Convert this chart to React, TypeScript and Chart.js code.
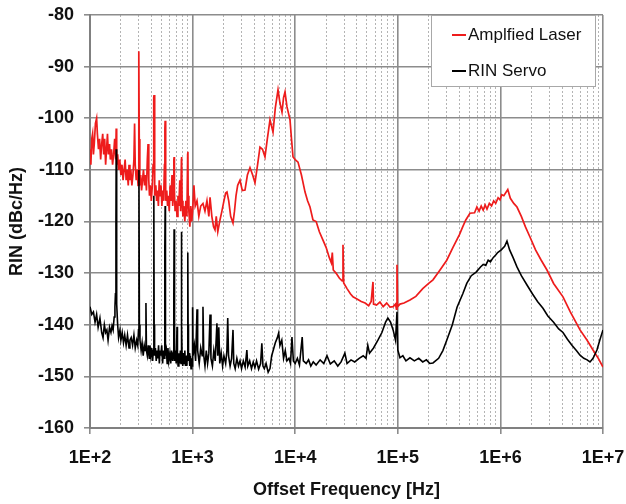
import React, { useEffect, useRef } from "react";
import { Chart, registerables } from "chart.js";

Chart.register(...registerables);

const seriesNames = ["Amplfied Laser", "RIN Servo"];
const seriesColors = ["#ee1c1c", "#000000"];

const decadeTicks = [100, 1000, 10000, 100000, 1000000, 10000000];
const decadeLabels = ["1E+2", "1E+3", "1E+4", "1E+5", "1E+6", "1E+7"];
const yMin = -160;
const yMax = -80;
const yStep = 10;

const laserFreq = [
  100, 102, 104, 106, 108, 110, 113, 116, 118, 121,
  124, 127, 130, 133, 136, 139, 142, 145, 148, 151,
  155, 158, 162, 166, 170, 174, 178, 180, 182, 186,
  190, 195, 200, 205, 210, 215, 220, 225, 230, 236,
  240, 245, 250, 256, 262, 268, 272, 276, 282, 288,
  294, 298, 300, 302, 306, 312, 318, 325, 332, 340,
  348, 355, 362, 368, 374, 380, 388, 396, 405, 412,
  418, 421, 424, 430, 438, 446, 455, 464, 473, 482,
  492, 502, 512, 522, 532, 537, 540, 543, 550, 560,
  570, 580, 592, 604, 616, 630, 640, 650, 657, 661,
  665, 675, 690, 705, 720, 735, 750, 765, 778, 782,
  790, 805, 820, 840, 860, 880, 895, 900, 905, 920,
  940, 960, 980,
  1000, 1030, 1060, 1104, 1150, 1200, 1262, 1320, 1380, 1440,
  1479, 1540, 1600, 1653, 1700, 1760, 1849, 1930, 2020, 2100,
  2163, 2250, 2350, 2476, 2560, 2650, 2750, 2898, 3050, 3242,
  3420, 3626, 3850, 4056, 4300, 4537, 4800, 5077, 5350, 5680,
  6079, 6400, 6800, 7100, 7436, 7700, 7955, 8318, 8898, 9200,
  9524,
  10000, 10650, 11500, 12470, 13200, 13940, 14900, 16000, 17200, 18650,
  20000, 21500, 22500, 23000, 23500, 25000, 27000, 28700, 29230, 29700,
  32000, 34500, 36590, 40000, 44000, 48000, 52000, 55000, 57300, 58000,
  62000, 67000, 72000, 78000, 84000, 90000, 95000, 97000, 98200, 99500,
  105000, 115000, 131400, 150000, 175000, 200000, 220300, 258000, 300000, 345000,
  400000, 430000, 460000, 505000, 560000, 590000, 620000, 650000, 680000, 710000,
  740000, 780000, 820000, 860000, 900000, 950000, 991000, 1030000, 1080000, 1180000,
  1250000, 1350000, 1451000, 1600000, 1750000, 1942000, 2200000, 2500000, 2844000, 3300000,
  4074000, 4800000, 5970000, 7000000, 7994000, 9000000, 10000000,
];

const laserRin = [
  -106, -109, -104, -103, -107, -105, -101, -100, -103, -106,
  -104, -108, -105, -103, -107, -104, -109, -106, -103, -107,
  -105, -108, -106, -109, -107, -104, -108, -102, -109, -107,
  -110, -108, -111, -109, -112, -110, -108, -112, -110, -113,
  -109, -112, -110, -113, -111, -108, -101, -109, -112, -110,
  -113, -105, -87, -104, -113, -111, -114, -112, -110, -113,
  -111, -114, -108, -105, -112, -115, -113, -116, -113, -109,
  -96, -95.5, -110, -115, -113, -116, -114, -117, -112, -115,
  -113, -117, -114, -116, -109, -102, -100.5, -110, -116, -114,
  -117, -115, -118, -113, -116, -111, -117, -115, -108, -107.5,
  -114, -118, -116, -119, -115, -117, -112, -118, -108, -107.5,
  -116, -119, -117, -120, -116, -119, -107, -106.5, -115, -118,
  -121, -117, -120,
  -118, -113, -117, -116, -119, -117, -116.5, -118, -116, -119,
  -115.3, -119, -121, -121.6, -119, -122, -119.7, -118, -116, -114.5,
  -114.3, -116, -119, -120.3, -118, -115, -113, -112, -114, -113.9,
  -111, -109.6, -111, -112.5, -109, -105.6, -106, -107.5, -104, -100.3,
  -102.7, -98, -94.5, -97, -98.8, -96, -94.9, -97.8, -100.3, -104,
  -107.5,
  -108, -108.5, -111, -114.3, -116, -117.2, -119.7, -120, -122, -123.6,
  -125, -127, -128, -126, -129.4, -130, -131, -131.5, -124.5, -131.9,
  -133, -134, -134.6, -135, -135.5, -135.8, -136.3, -135.5, -131.7, -136,
  -136.2, -135.6, -136.5, -135.8, -136.6, -136.5, -136, -137, -128.4, -136.5,
  -136, -135.8, -135.2, -134.5, -133, -132, -131.3, -129.4, -127.5, -125,
  -122.5, -121, -119.7, -118.4, -118.3, -117.2, -118, -117, -117.8, -116.8,
  -117.6, -116.5, -117, -116, -116.5, -115.4, -115.8, -114.8, -115, -113.8,
  -115.5, -116.5, -117.2, -119, -121, -123, -125.5, -127.5, -129.4, -132,
  -134.6, -137.5, -141, -143, -144.9, -146.5, -148.2,
];

const servoFreq = [
  100, 104, 108, 112, 116, 120, 125, 130, 134, 138,
  142, 146, 150, 155, 160, 164, 168, 172, 175, 177,
  179, 180, 181, 183, 186, 190, 196, 200, 206, 212,
  218, 225, 232, 240, 245, 252, 260, 268, 276, 285,
  292, 297, 300, 303, 307, 315, 322, 330, 338, 345,
  351, 355, 362, 370, 378, 384, 392, 400, 408, 414,
  418, 420, 422, 426, 434, 442, 450, 458, 466, 474,
  482, 490, 500, 510, 520, 528, 534, 538, 540, 542,
  546, 555, 565, 575, 585, 600, 612, 624, 640, 650,
  656, 660, 664, 670, 680, 692, 705, 712, 722, 735,
  748, 760, 772, 778, 780, 783, 790, 802, 815, 828,
  840, 852, 865, 878, 890, 896, 900, 904, 912, 925,
  938, 950, 965, 980, 992,
  1000, 1010, 1040, 1070, 1104, 1120, 1160, 1200, 1240, 1262,
  1285, 1320, 1360, 1400, 1440, 1479, 1510, 1560, 1610, 1660,
  1726, 1760, 1800, 1840, 1900, 1960, 2020, 2100, 2160, 2200,
  2240, 2320, 2400, 2476, 2520, 2600, 2700, 2800, 2900, 3000,
  3120, 3250, 3380, 3450, 3600, 3750, 3900, 4050, 4200, 4400,
  4600, 4730, 4850, 5000, 5200, 5450, 5680, 5900, 6100, 6400,
  6700, 6900, 7100, 7400, 7700, 8000, 8300, 8700, 9000, 9300,
  9600,
  10000, 10500, 11000, 11700, 12000, 12800, 13500, 14200, 15000, 16000,
  17500, 19000, 20400, 22000, 24000, 26000, 28000, 30500, 32000, 35000,
  38000, 42000, 46000, 49000, 51000, 53000, 58000, 64000, 70000, 76000,
  80000, 85000, 90000, 95000, 98200,
  100000, 105000, 112000, 120000, 131400, 145000, 160000, 175000, 190000, 205000,
  220300, 250000, 275000, 300000, 340000, 378000, 430000, 470000, 520000, 580000,
  640000, 680000, 720000, 760000, 800000, 850000, 900000, 940000, 1020000, 1100000,
  1159000, 1230000, 1330000, 1450000, 1600000, 1816000, 2050000, 2300000, 2600000, 2900000,
  3300000, 3700000, 4074000, 4500000, 5000000, 5500000, 5970000, 6500000, 7000000, 7470000,
  8000000, 8730000, 9300000, 10000000,
];

const servoRin = [
  -136.5, -138, -137.5, -139.5, -138, -140.5, -138.7, -141.5, -142.5, -140,
  -141.5, -141, -143, -140.5, -141.5, -140.2, -141, -138.5, -136.6, -134,
  -120, -106, -125, -136, -140, -142.5, -141, -143, -141.5, -143.5,
  -142, -144, -142, -144.5, -143, -142.5, -144, -142, -144.5, -143,
  -144, -141, -110, -140, -143, -145, -143.5, -146, -144, -145,
  -135.8, -145, -146, -144, -146.5, -144, -146, -144.5, -147, -145,
  -130, -115, -140, -146, -144.5, -147, -145, -146.5, -144, -147.5,
  -145, -146, -144, -147.5, -145, -146.5, -140, -125, -117, -130,
  -146, -145, -147.5, -144.5, -147, -145.5, -147.5, -145, -147, -145.5,
  -135, -121.5, -138, -147, -145, -147.5, -140.4, -146, -148, -145.5,
  -147.5, -145, -147.5, -135, -122, -140, -146, -148, -145.5, -147.5,
  -145, -148, -146, -148, -146, -136, -126, -140, -147, -145.5,
  -148, -146, -148.5, -146.5, -148,
  -136.6, -146, -144, -147, -137, -145, -147.5, -144.5, -146, -136.5,
  -146, -148, -145, -147.5, -145.5, -138, -146.5, -148, -145, -147,
  -139.7, -146, -140.5, -147.5, -145.5, -148, -146, -147.5, -145, -138.7,
  -146, -148, -146.5, -141, -147.5, -148.5, -146.5, -148, -147, -148.5,
  -147, -148.2, -144.9, -148, -147, -148.5, -147.2, -148.3, -147, -148.6,
  -147.5, -143.6, -148, -148.5, -147.5, -149.2, -148.5, -146, -145, -143.5,
  -142.5, -141.6, -144, -143, -146.5, -145, -147, -146.5, -147.5, -142.4,
  -147,
  -147.5, -146.5, -147.8, -142.4, -147, -147.5, -146.8, -148, -147.2, -147.8,
  -146.8, -147.5, -146, -147.6, -147, -148, -147.2, -145.5, -147.5, -146.8,
  -147.2, -146.5, -146, -146.5, -144, -145.5, -144.5, -143, -141.5, -139.5,
  -138.7, -139.5, -141, -143, -137.5,
  -144.9, -146.4, -146, -147, -146.4, -147, -146.5, -147.2, -146.8, -147.5,
  -147.4, -146.5, -145, -143, -140, -136.6, -134, -132, -130.5, -129.8,
  -128.8, -128.3, -128.5, -127.5, -127.8, -127, -126.5, -126, -125.5, -124.8,
  -123.8, -125.5, -127, -128.8, -130.5, -132.3, -134, -135.5, -136.8, -138.3,
  -139.5, -140.8, -141.5, -142.8, -144, -145, -145.9, -146.5, -146.8, -147.2,
  -146.5, -144.9, -143, -141,
];

const FONT = '"Liberation Sans", Arial, Helvetica, sans-serif';

const boxLegend = {
  id: "boxLegend",
  afterDatasetsDraw(chart: any) {
    const { ctx, chartArea } = chart;
    const w = 165;
    const h = 72;
    const x = chartArea.right - 7 - w;
    const y = chartArea.top;
    ctx.save();
    ctx.fillStyle = "#ffffff";
    ctx.fillRect(x, y, w, h);
    ctx.strokeStyle = "#a8a8a8";
    ctx.lineWidth = 1;
    ctx.strokeRect(x + 0.5, y + 0.5, w - 1, h - 1);
    seriesNames.forEach((name, i) => {
      const cy = y + 20 + i * 36;
      ctx.strokeStyle = seriesColors[i];
      ctx.lineWidth = 2;
      ctx.beginPath();
      ctx.moveTo(x + 21, cy);
      ctx.lineTo(x + 35, cy);
      ctx.stroke();
      ctx.fillStyle = "#111111";
      ctx.font = "17px " + FONT;
      ctx.textBaseline = "middle";
      ctx.textAlign = "left";
      ctx.fillText(name, x + 37, cy);
    });
    ctx.restore();
  },
};

export default function App() {
  const ref = useRef<HTMLCanvasElement | null>(null);

  useEffect(() => {
    if (!ref.current) return;
    const laserData = laserFreq.map((f, i) => ({ x: f, y: laserRin[i] }));
    const servoData = servoFreq.map((f, i) => ({ x: f, y: servoRin[i] }));

    const chart = new Chart(ref.current, {
      type: "scatter",
      data: {
        datasets: [
          {
            label: seriesNames[0],
            data: laserData,
            showLine: true,
            borderColor: seriesColors[0],
            backgroundColor: seriesColors[0],
            borderWidth: 1.7,
            pointRadius: 0,
            tension: 0,
            order: 1,
          },
          {
            label: seriesNames[1],
            data: servoData,
            showLine: true,
            borderColor: seriesColors[1],
            backgroundColor: seriesColors[1],
            borderWidth: 1.6,
            pointRadius: 0,
            tension: 0,
            order: 0,
          },
        ],
      },
      options: {
        responsive: false,
        animation: false,
        layout: { padding: { left: 0, top: 15, right: 23, bottom: 0 } },
        plugins: {
          legend: { display: false },
          tooltip: { enabled: false },
        },
        scales: {
          x: {
            type: "logarithmic",
            min: decadeTicks[0],
            max: decadeTicks[decadeTicks.length - 1],
            afterBuildTicks: (scale: any) => {
              const t: any[] = [];
              decadeTicks.forEach((d, i) => {
                t.push({ value: d, major: true });
                if (i < decadeTicks.length - 1) {
                  for (let m = 2; m <= 9; m++) t.push({ value: d * m, major: false });
                }
              });
              scale.ticks = t;
            },
            afterFit: (scale: any) => {
              scale.height = 76;
              scale.paddingLeft = 0;
              scale.paddingRight = 0;
            },
            ticks: {
              autoSkip: false,
              maxRotation: 0,
              minRotation: 0,
              padding: 13,
              color: "#111111",
              font: { family: FONT, size: 18, weight: "bold" },
              callback: (value: any) => {
                const i = decadeTicks.indexOf(Number(value));
                return i >= 0 ? decadeLabels[i] : "";
              },
            },
            grid: {
              color: (ctx: any) => (ctx.tick && ctx.tick.major ? "#8c8c8c" : "#b4b4b4"),
              lineWidth: (ctx: any) => (ctx.tick && ctx.tick.major ? 1.6 : 1),
              tickColor: (ctx: any) => (ctx.tick && ctx.tick.major ? "#8c8c8c" : "rgba(0,0,0,0)"),
              tickLength: 6,
            },
            border: {
              color: "#808080",
              width: 2,
              dash: (ctx: any) => (ctx.tick && !ctx.tick.major ? [2, 2] : []),
            },
            title: {
              display: true,
              text: "Offset Frequency [Hz]",
              color: "#111111",
              font: { family: FONT, size: 18, weight: "bold" },
              padding: { top: 0, bottom: 3 },
            },
          },
          y: {
            type: "linear",
            min: yMin,
            max: yMax,
            afterFit: (scale: any) => {
              scale.width = 90;
              scale.paddingTop = 0;
              scale.paddingBottom = 0;
            },
            ticks: {
              stepSize: yStep,
              padding: 10,
              color: "#111111",
              font: { family: FONT, size: 18, weight: "bold" },
              callback: (value: any) => String(value),
            },
            grid: {
              color: "#8c8c8c",
              lineWidth: 1.6,
              tickColor: "#8c8c8c",
              tickLength: 6,
            },
            border: { color: "#808080", width: 2 },
            title: {
              display: true,
              text: "RIN (dBc/Hz)",
              color: "#111111",
              font: { family: FONT, size: 18, weight: "bold" },
              padding: { top: 6, bottom: 0 },
            },
          },
        },
      },
      plugins: [boxLegend],
    } as any);

    return () => chart.destroy();
  }, []);

  return (
    <div style={{ position: "fixed", left: 0, top: 0, width: 626, height: 504, background: "#ffffff" }}>
      <canvas ref={ref} width={626} height={504} style={{ display: "block" }} />
    </div>
  );
}
